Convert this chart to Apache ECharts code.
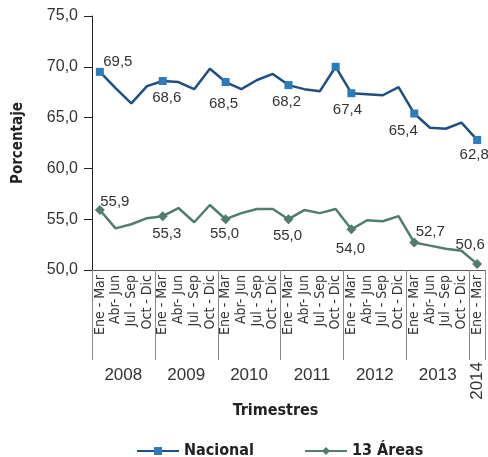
<!DOCTYPE html>
<html>
<head>
<meta charset="utf-8">
<script src="https://cdn.jsdelivr.net/npm/echarts@6/dist/echarts.min.js"></script>
<style>
  html, body { margin: 0; padding: 0; background: #ffffff; }
  #chart { width: 488px; height: 457px; }
</style>
</head>
<body>
<div id="chart"></div>
<script>
  // datos
  var quarterNames = ['Ene - Mar', 'Abr- Jun', 'Jul - Sep', 'Oct - Dic'];
  var years = ['2008', '2009', '2010', '2011', '2012', '2013', '2014'];
  var nacional = [69.5, 67.9, 66.4, 68.1, 68.6, 68.5, 67.8, 69.8, 68.5, 67.8, 68.7, 69.3, 68.2,
                  67.8, 67.6, 70.0, 67.4, 67.3, 67.2, 68.0, 65.4, 64.0, 63.9, 64.5, 62.8];
  var areas13 = [55.9, 54.1, 54.5, 55.1, 55.3, 56.1, 54.7, 56.4, 55.0, 55.6, 56.0, 56.0, 55.0,
                 55.9, 55.6, 56.0, 54.0, 54.9, 54.8, 55.3, 52.7, 52.4, 52.1, 51.9, 50.6];
  var yTicks = [50, 55, 60, 65, 70, 75];

  // un trimestre por punto, 2008 T1 .. 2014 T1
  var categories = [], catYears = [];
  for (var i = 0; i < nacional.length; i++) {
    categories.push(quarterNames[i % 4]);
    catYears.push(years[Math.floor(i / 4)]);
  }

  // posiciones de etiquetas (desplazamiento del centro del texto)
  var nacLabels = { 0: [18, -10], 4: [4, 17], 8: [-2, 22], 12: [-2, 17], 16: [-4, 17], 20: [-11, 17], 24: [-3, 15] };
  var nacMarkers = [0, 4, 8, 12, 15, 16, 20, 24];
  var areLabels = { 0: [15, -8], 4: [4, 18], 8: [-1, 15], 12: [-1, 17], 16: [-1, 19], 20: [16, -11], 24: [-7, -19] };

  var fmt = function (v) { return v.toFixed(1).replace('.', ','); };
  var FONT = "'Liberation Sans', Arial, sans-serif";
  var NARROW = "'DejaVu Sans Condensed', 'Liberation Sans', sans-serif";

  function buildData(values, labels, markers, symbol, size) {
    return values.map(function (v, idx) {
      var item = { value: v };
      if (markers.indexOf(idx) >= 0) {
        item.symbol = symbol;
        item.symbolSize = size;
      } else {
        item.symbol = 'none';
      }
      if (labels[idx]) {
        item.label = { show: true, position: 'inside', offset: labels[idx] };
      }
      return item;
    });
  }

  var myChart = echarts.init(document.getElementById('chart'));
  myChart.setOption({
    animation: false,
    textStyle: { fontFamily: FONT },
    grid: { left: 92, right: 3, top: 16, bottom: 187, containLabel: false },
    legend: {
      left: 131, top: 438,
      itemWidth: 42, itemHeight: 10, itemGap: 50,
      textStyle: { fontFamily: NARROW, fontWeight: 'bold', fontSize: 16, color: '#222' },
      data: ['Nacional', '13 Áreas']
    },
    xAxis: [
      {
        type: 'category', data: categories, position: 'bottom',
        name: 'Trimestres', nameLocation: 'middle', nameGap: 133,
        nameTextStyle: { fontFamily: NARROW, fontWeight: 'bold', fontSize: 16, color: '#222', padding: [0, 26, 0, 0] },
        axisLine: { lineStyle: { color: '#555', width: 1 } },
        axisTick: { interval: 0, length: 67, lineStyle: { color: '#888' } },
        axisLabel: { interval: 0, rotate: 90, margin: 5, fontFamily: NARROW, fontSize: 14, color: '#333' },
        splitLine: { show: false }
      },
      {
        // líneas largas que separan los años
        type: 'category', data: catYears, position: 'bottom', offset: 0,
        axisLine: { show: true, lineStyle: { color: 'rgba(0,0,0,0)' } },
        axisTick: { show: true, interval: function (idx) { return idx % 4 === 0; }, length: 90, lineStyle: { color: '#888' } },
        axisLabel: { show: false },
        splitLine: { show: false }
      },
      {
        type: 'category', data: catYears, position: 'bottom', offset: 97,
        axisLine: { show: false }, axisTick: { show: false },
        axisLabel: {
          interval: function (idx) { return idx % 4 === 2 && idx < 24; },
          margin: 0, padding: [0, 16, 0, 0],
          fontSize: 17, color: '#333'
        }
      },
      {
        type: 'category', data: catYears, position: 'bottom', offset: 92,
        axisLine: { show: false }, axisTick: { show: false },
        axisLabel: {
          interval: function (idx) { return idx === 24; },
          rotate: 90, margin: 0, fontSize: 17, color: '#333'
        }
      }
    ],
    yAxis: {
      type: 'value', min: yTicks[0], max: yTicks[yTicks.length - 1], interval: 5,
      name: 'Porcentaje', nameLocation: 'middle', nameGap: 66, nameRotate: 90,
      nameTextStyle: { fontFamily: NARROW, fontWeight: 'bold', fontSize: 15, color: '#222' },
      axisLine: { show: true, lineStyle: { color: '#222', width: 1 } },
      axisTick: { show: true, inside: false, length: 8, lineStyle: { color: '#222' } },
      axisLabel: { formatter: fmt, fontSize: 16, color: '#333', margin: 14 },
      splitLine: { show: false }
    },
    series: [
      {
        name: 'Nacional', type: 'line', xAxisIndex: 0,
        symbol: 'rect', symbolSize: 8,
        lineStyle: { color: '#1d4f80', width: 2.5 },
        itemStyle: { color: '#2f7ab8' },
        label: { color: '#333', fontSize: 15, formatter: function (p) { return fmt(p.value); } },
        data: buildData(nacional, nacLabels, nacMarkers, 'rect', 8)
      },
      {
        name: '13 Áreas', type: 'line', xAxisIndex: 0,
        symbol: 'diamond', symbolSize: 10,
        lineStyle: { color: '#4f7f6a', width: 2.5 },
        itemStyle: { color: '#4f7f6a' },
        label: { color: '#333', fontSize: 15, formatter: function (p) { return fmt(p.value); } },
        data: buildData(areas13, areLabels, [0, 4, 8, 12, 16, 20, 24], 'diamond', 10)
      }
    ]
  });
</script>
</body>
</html>
